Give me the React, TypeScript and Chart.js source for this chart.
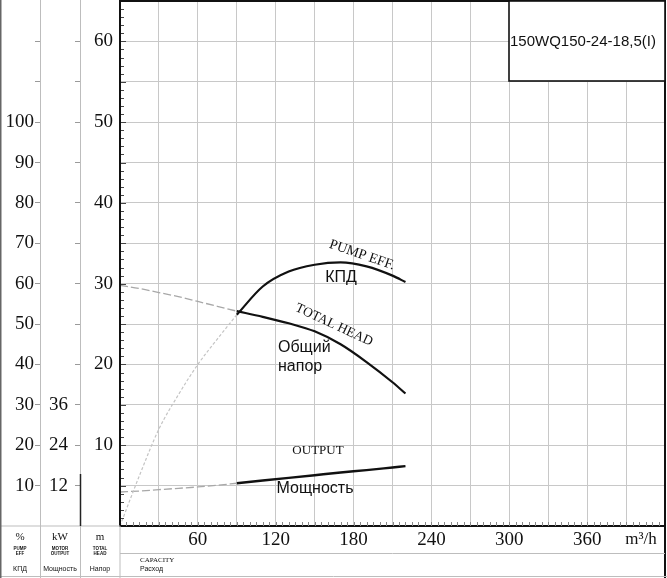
import { useEffect, useRef } from 'react';
import Chart from 'chart.js/auto';

// capacity, m3/h (grey part and black part of the curves)
const flowLow = [0, 15, 30, 45, 60, 75, 90];
const flowHigh = [90, 110, 130, 150, 170, 190, 210, 220];

// total head, m
const headLow = [29.8, 29.4, 28.9, 28.4, 27.8, 27.2, 26.6];
const headHigh = [26.6, 25.9, 25.1, 24.1, 22.5, 20.3, 17.8, 16.4];

// pump efficiency, %
const effLow = [0, 12.5, 24, 32.5, 40, 46.3, 52.3];
const effHigh = [52.3, 59.3, 63.0, 64.7, 65.3, 64.3, 62.0, 60.4];

// motor output, kW
const powerLow = [10.1, 10.4, 10.8, 11.2, 11.6, 12.1, 12.7];
const powerHigh = [12.7, 13.5, 14.3, 15.1, 15.9, 16.6, 17.4, 17.8];

// tick labels
const flowTicks = [60, 120, 180, 240, 300, 360];
const headTicks = [10, 20, 30, 40, 50, 60];
const effTicks = [10, 20, 30, 40, 50, 60, 70, 80, 90, 100];
const powerTicks = [12, 24, 36];

const SERIF = "'Liberation Serif', 'DejaVu Serif', serif";
const SANS = "'Liberation Sans', Arial, sans-serif";
const GRID = '#c8c8c8';

const pts = (xs: number[], ys: number[]) => xs.map((x, i) => ({ x, y: ys[i] }));

function txt(ctx: CanvasRenderingContext2D, s: string, x: number, y: number, font: string, align: CanvasTextAlign = 'center', rot = 0) {
    ctx.save();
    ctx.translate(x, y);
    ctx.rotate((rot * Math.PI) / 180);
    ctx.font = font;
    ctx.fillStyle = '#111';
    ctx.textAlign = align;
    ctx.textBaseline = 'middle';
    ctx.fillText(s, 0, 0);
    ctx.restore();
}

const decor = {
    id: 'decor',
    afterDraw(chart: any) {
        const { ctx, chartArea: a, scales } = chart;
        const W = chart.width;
        const H = chart.height;
        const sy = scales.y;
        const sx = scales.x;
        ctx.save();

        // minor ticks on head axis (every 1 m)
        ctx.strokeStyle = '#444';
        ctx.lineWidth = 1;
        for (let m = 1; m < 65; m++) {
            const y = Math.round(sy.getPixelForValue(m)) + 0.5;
            const len = m % 5 === 0 ? 6 : 4;
            ctx.beginPath();
            ctx.moveTo(a.left, y);
            ctx.lineTo(a.left + len, y);
            ctx.stroke();
        }
        // minor ticks on capacity axis (every 5 m3/h)
        ctx.strokeStyle = '#888';
        for (let q = 5; q < 420; q += 5) {
            const x = Math.round(sx.getPixelForValue(q)) + 0.5;
            ctx.beginPath();
            ctx.moveTo(x, a.bottom);
            ctx.lineTo(x, a.bottom - 4);
            ctx.stroke();
        }

        // frame
        ctx.strokeStyle = '#111';
        ctx.lineWidth = 2;
        ctx.beginPath();
        ctx.moveTo(a.left, a.top);
        ctx.lineTo(a.right, a.top);
        ctx.moveTo(a.right, 0);
        ctx.lineTo(a.right, H);
        ctx.moveTo(a.left, a.top);
        ctx.lineTo(a.left, a.bottom);
        ctx.stroke();

        // left panel & bottom panel lines
        ctx.strokeStyle = '#bdbdbd';
        ctx.lineWidth = 1;
        const c1 = scales.yEff.right;
        const c2 = scales.yKw.right;
        ctx.beginPath();
        ctx.moveTo(c1 + 0.5, 0);
        ctx.lineTo(c1 + 0.5, H);
        ctx.moveTo(c2 + 0.5, 0);
        ctx.lineTo(c2 + 0.5, H);
        ctx.moveTo(a.left, a.bottom);
        ctx.lineTo(a.left, H);
        ctx.moveTo(a.left, 553.5);
        ctx.lineTo(a.right, 553.5);
        ctx.moveTo(0, H - 1.5);
        ctx.lineTo(W, H - 1.5);
        ctx.moveTo(0, a.bottom);
        ctx.lineTo(a.left, a.bottom);
        ctx.stroke();
        ctx.strokeStyle = '#666';
        ctx.lineWidth = 1.5;
        ctx.beginPath();
        ctx.moveTo(0.75, 0);
        ctx.lineTo(0.75, H);
        ctx.stroke();
        ctx.strokeStyle = '#222';
        ctx.beginPath();
        ctx.moveTo(c2 + 0.5, 474);
        ctx.lineTo(c2 + 0.5, a.bottom);
        ctx.stroke();

        // model box
        ctx.fillStyle = '#fff';
        ctx.fillRect(509, a.top, a.right - 509, 80);
        ctx.strokeStyle = '#111';
        ctx.lineWidth = 1.6;
        ctx.strokeRect(509, a.top, a.right - 509, 80);
        txt(ctx, '150WQ150-24-18,5(I)', 510, 42, `15px ${SANS}`, 'left');

        // curve captions
        txt(ctx, 'PUMP EFF.', 362, 255, `14px ${SERIF}`, 'center', 19);
        txt(ctx, 'КПД', 341, 278, `16px ${SANS}`);
        txt(ctx, 'TOTAL HEAD', 334, 325, `13.5px ${SERIF}`, 'center', 25);
        txt(ctx, 'Общий', 278, 348, `16px ${SANS}`, 'left');
        txt(ctx, 'напор', 278, 367, `16px ${SANS}`, 'left');
        txt(ctx, 'OUTPUT', 318, 451, `13px ${SERIF}`);
        txt(ctx, 'Мощность', 315, 489, `16px ${SANS}`);

        // unit and panel headers
        txt(ctx, 'm³/h', 641, 540, `17px ${SERIF}`);
        txt(ctx, '%', 20, 537, `11px ${SERIF}`);
        txt(ctx, 'kW', 60, 537, `11px ${SERIF}`);
        txt(ctx, 'm', 100, 537, `11px ${SERIF}`);
        txt(ctx, 'PUMP', 20, 549, `bold 4.5px ${SANS}`);
        txt(ctx, 'EFF', 20, 554, `bold 4.5px ${SANS}`);
        txt(ctx, 'КПД', 20, 569, `7px ${SANS}`);
        txt(ctx, 'MOTOR', 60, 549, `bold 4.5px ${SANS}`);
        txt(ctx, 'OUTPUT', 60, 554, `bold 4.5px ${SANS}`);
        txt(ctx, 'Мощность', 60, 569, `7px ${SANS}`);
        txt(ctx, 'TOTAL', 100, 549, `bold 4.5px ${SANS}`);
        txt(ctx, 'HEAD', 100, 554, `bold 4.5px ${SANS}`);
        txt(ctx, 'Напор', 100, 569, `7px ${SANS}`);
        txt(ctx, 'CAPACITY', 140, 560, `7px ${SERIF}`, 'left');
        txt(ctx, 'Расход', 140, 569, `7px ${SANS}`, 'left');

        ctx.restore();
    },
};

const fit = (w?: number, h?: number) => (s: any) => {
    if (w !== undefined) {
        s.width = w;
        s.paddingTop = 0;
        s.paddingBottom = 0;
    }
    if (h !== undefined) {
        s.height = h;
        s.paddingLeft = 0;
        s.paddingRight = 0;
    }
};

// hide tick marks at the ends of the side columns
const sideTick = (max: number) => (c: any) =>
    c.tick && (c.tick.value === 0 || c.tick.value === max) ? 'rgba(0,0,0,0)' : '#9a9a9a';

export default function App() {
    const canvasRef = useRef<HTMLCanvasElement | null>(null);

    useEffect(() => {
        if (!canvasRef.current) {
            return;
        }
        const tickFont = { family: SERIF, size: 19 };
        const chart = new Chart(canvasRef.current, {
            type: 'line',
            data: {
                datasets: [
                    { label: 'head-low', data: pts(flowLow, headLow), yAxisID: 'y', borderColor: '#a8a8a8', borderWidth: 1.3, borderDash: [8, 3] },
                    { label: 'head', data: pts(flowHigh, headHigh), yAxisID: 'y', borderColor: '#111', borderWidth: 2.2 },
                    { label: 'eff-low', data: pts(flowLow, effLow), yAxisID: 'yEff', borderColor: '#c4c4c4', borderWidth: 1.2, borderDash: [3, 2] },
                    { label: 'eff', data: pts(flowHigh, effHigh), yAxisID: 'yEff', borderColor: '#111', borderWidth: 2.2 },
                    { label: 'power-low', data: pts(flowLow, powerLow), yAxisID: 'yKw', borderColor: '#a8a8a8', borderWidth: 1.3, borderDash: [8, 3] },
                    { label: 'power', data: pts(flowHigh, powerHigh), yAxisID: 'yKw', borderColor: '#111', borderWidth: 2.4 },
                ] as any,
            },
            options: {
                animation: false,
                responsive: false,
                devicePixelRatio: 1,
                parsing: false as any,
                elements: {
                    point: { radius: 0 },
                    line: { cubicInterpolationMode: 'monotone', fill: false },
                },
                layout: { padding: { top: 1, right: 2, left: 0, bottom: 0 } },
                plugins: { legend: { display: false }, tooltip: { enabled: false } },
                scales: {
                    x: {
                        type: 'linear',
                        position: 'bottom',
                        min: 0,
                        max: 420,
                        ticks: {
                            stepSize: 30,
                            autoSkip: false,
                            maxRotation: 0,
                            padding: 3,
                            color: '#111',
                            font: tickFont,
                            callback: (v: any) => (flowTicks.includes(Number(v)) ? String(v) : ''),
                        },
                        grid: { color: GRID, lineWidth: 1, drawTicks: false },
                        border: { color: '#111', width: 2 },
                        afterFit: fit(undefined, 52),
                    },
                    y: {
                        type: 'linear',
                        position: 'left',
                        weight: 1,
                        min: 0,
                        max: 65,
                        ticks: {
                            stepSize: 5,
                            autoSkip: false,
                            padding: 7,
                            color: '#111',
                            font: tickFont,
                            callback: (v: any) => (headTicks.includes(Number(v)) ? String(v) : ''),
                        },
                        grid: { color: GRID, lineWidth: 1, drawTicks: false },
                        border: { color: '#111', width: 2 },
                        afterFit: fit(40),
                    },
                    yKw: {
                        type: 'linear',
                        position: 'left',
                        weight: 2,
                        min: 0,
                        max: 156,
                        ticks: {
                            stepSize: 12,
                            autoSkip: false,
                            padding: 7,
                            color: '#111',
                            font: tickFont,
                            callback: (v: any) => (powerTicks.includes(Number(v)) ? String(v) : ''),
                        },
                        grid: { drawOnChartArea: false, tickLength: 5, color: '#9a9a9a', tickColor: sideTick(156) },
                        border: { color: '#bdbdbd', width: 1 },
                        afterFit: fit(40),
                    },
                    yEff: {
                        type: 'linear',
                        position: 'left',
                        weight: 3,
                        min: 0,
                        max: 130,
                        ticks: {
                            stepSize: 10,
                            autoSkip: false,
                            padding: 1,
                            color: '#111',
                            font: tickFont,
                            callback: (v: any) => (effTicks.includes(Number(v)) ? String(v) : ''),
                        },
                        grid: { drawOnChartArea: false, tickLength: 5, color: '#9a9a9a', tickColor: sideTick(130) },
                        border: { color: '#bdbdbd', width: 1 },
                        afterFit: fit(40),
                    },
                } as any,
            },
            plugins: [decor],
        });
        return () => chart.destroy();
    }, []);

    return (
        <div style={{ position: 'absolute', left: 0, top: 0, width: 667, height: 578, background: '#fff' }}>
            <canvas ref={canvasRef} width={667} height={578} style={{ display: 'block' }} />
        </div>
    );
}
